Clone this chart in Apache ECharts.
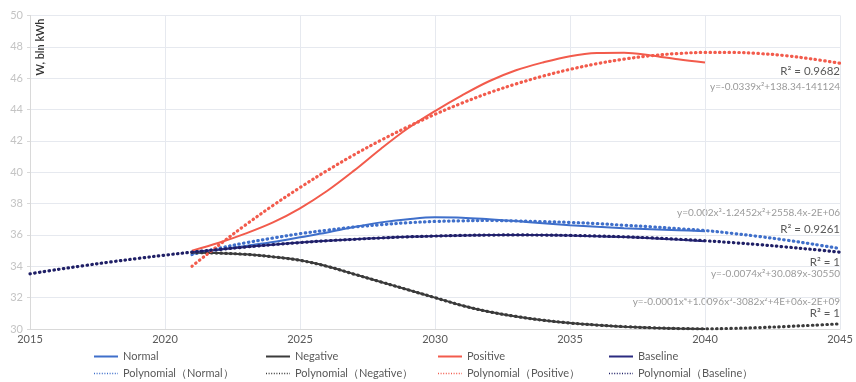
<!DOCTYPE html>
<html>
<head>
<meta charset="utf-8">
<script src="https://cdn.jsdelivr.net/npm/echarts@6/dist/echarts.min.js"></script>
<style>
  html, body { margin: 0; padding: 0; background: #ffffff; }
  #chart { width: 856px; height: 382px; }
</style>
</head>
<body>
<div id="chart"></div>
<script>
// Electricity consumption scenarios, bln kWh
const yearsScenario = [2021, 2022, 2023, 2024, 2025, 2026, 2027, 2028, 2029, 2030,
                       2031, 2032, 2033, 2034, 2035, 2036, 2037, 2038, 2039, 2040];
const yearsTrend = [2021, 2022, 2023, 2024, 2025, 2026, 2027, 2028, 2029, 2030,
                    2031, 2032, 2033, 2034, 2035, 2036, 2037, 2038, 2039, 2040,
                    2041, 2042, 2043, 2044, 2045];
const yearsBaseTrend = [2015, 2016, 2017, 2018, 2019, 2020,
                        2021, 2022, 2023, 2024, 2025, 2026, 2027, 2028, 2029, 2030,
                        2031, 2032, 2033, 2034, 2035, 2036, 2037, 2038, 2039, 2040,
                        2041, 2042, 2043, 2044, 2045];

const normal   = [34.80, 35.05, 35.30, 35.55, 35.85, 36.15, 36.50, 36.80, 37.00, 37.12,
                  37.10, 37.00, 36.88, 36.75, 36.62, 36.52, 36.43, 36.36, 36.30, 36.24];
const negative = [34.88, 34.84, 34.76, 34.60, 34.38, 34.00, 33.50, 33.00, 32.50, 32.00,
                  31.50, 31.10, 30.80, 30.56, 30.38, 30.25, 30.15, 30.08, 30.03, 30.00];
const positive = [35.00, 35.50, 36.10, 36.80, 37.70, 38.80, 40.10, 41.50, 42.80, 43.90,
                  44.90, 45.80, 46.50, 47.00, 47.40, 47.60, 47.62, 47.45, 47.20, 47.00];
const baseline = [34.90, 35.07, 35.23, 35.38, 35.51, 35.63, 35.72, 35.81, 35.88, 35.93,
                  35.97, 35.99, 36.00, 35.99, 35.96, 35.91, 35.86, 35.79, 35.70, 35.60];

const trendNormal   = [34.75, 35.15, 35.50, 35.80, 36.08, 36.30, 36.50, 36.65, 36.78, 36.86,
                       36.90, 36.92, 36.89, 36.85, 36.80, 36.72, 36.62, 36.52, 36.40, 36.28,
                       36.10, 35.90, 35.67, 35.41, 35.13];
const trendNegative = [34.88, 34.84, 34.76, 34.60, 34.38, 34.00, 33.50, 33.00, 32.50, 32.00,
                       31.50, 31.10, 30.80, 30.56, 30.38, 30.25, 30.15, 30.08, 30.03, 30.01,
                       30.04, 30.09, 30.16, 30.24, 30.33];
const trendPositive = [34.00, 35.36, 36.66, 37.88, 39.02, 40.10, 41.11, 42.04, 42.90, 43.69,
                       44.41, 45.06, 45.63, 46.13, 46.56, 46.92, 47.21, 47.43, 47.57, 47.64,
                       47.64, 47.57, 47.43, 47.21, 46.95];
const trendBaseline = [33.52, 33.79, 34.04, 34.28, 34.50, 34.71,
                       34.90, 35.07, 35.23, 35.38, 35.51, 35.63, 35.72, 35.81, 35.88, 35.93,
                       35.97, 35.99, 36.00, 35.99, 35.97, 35.93, 35.88, 35.81, 35.72, 35.63,
                       35.51, 35.38, 35.23, 35.07, 34.90];

const yTicks = { min: 30, max: 50, step: 2 };
const xTicks = { min: 2015, max: 2045, step: 5 };

// Trendline equations and fit quality shown at the right edge
const trendNotes = [
  { text: 'R² = 0.9682', kind: 'r2', y: 71 },
  { text: 'y=-0.0339x²+138.34-141124', kind: 'eq', y: 87 },
  { text: 'y=0.002x³-1.2452x²+2558.4x-2E+06', kind: 'eq', y: 213 },
  { text: 'R² = 0.9261', kind: 'r2', y: 229 },
  { text: 'R² = 1', kind: 'r2', y: 262 },
  { text: 'y=-0.0074x²+30.089x-30550', kind: 'eq', y: 274 },
  { text: 'y=-0.0001x⁴+1.0096x³-3082x²+4E+06x-2E+09', kind: 'eq', y: 302 },
  { text: 'R² = 1', kind: 'r2', y: 313 }
];

const FONT = 'Lato, "Open Sans", sans-serif';
const colors = {
  normal: '#3f6fca',
  negative: '#3b3b3b',
  positive: '#f25b4c',
  baseline: '#2b2b80',
  baselineTrend: '#1f1f66'
};

const zip = (xs, ys) => xs.map((x, i) => [x, ys[i]]);

function solid(name, xs, ys, color) {
  return {
    name, type: 'line', data: zip(xs, ys),
    smooth: 0.35, symbol: 'none',
    lineStyle: { color, width: 2 },
    itemStyle: { color },
    z: 2
  };
}
function dotted(name, xs, ys, color) {
  return {
    name, type: 'line', data: zip(xs, ys),
    smooth: 0.35, symbol: 'none',
    lineStyle: { color, width: 3.2, type: [0.5, 4.3], cap: 'round' },
    itemStyle: { color },
    z: 3
  };
}

const legendCols = [
  ['Normal', 'Polynomial（Normal）', 93],
  ['Negative', 'Polynomial（Negative）', 265],
  ['Positive', 'Polynomial（Positive）', 437],
  ['Baseline', 'Polynomial（Baseline）', 608]
];

const chart = echarts.init(document.getElementById('chart'), null, { renderer: 'canvas' });

chart.setOption({
  backgroundColor: '#ffffff',
  animation: false,
  textStyle: { fontFamily: FONT },
  grid: { left: 30, right: 16, top: 15.4, bottom: 53 },
  xAxis: {
    type: 'value', min: xTicks.min, max: xTicks.max, interval: xTicks.step,
    axisLine: { show: true, lineStyle: { color: '#d9d9d9', width: 1 } },
    axisTick: { show: false },
    axisLabel: { color: '#595959', fontSize: 11, margin: 5, fontFamily: FONT,
                 formatter: v => String(v) },
    splitLine: { show: true, lineStyle: { color: '#e6e9ef', width: 1 } }
  },
  yAxis: {
    type: 'value', min: yTicks.min, max: yTicks.max, interval: yTicks.step,
    axisLine: { show: true, lineStyle: { color: '#d9d9d9', width: 1 } },
    axisTick: { show: true, length: 3, lineStyle: { color: '#d9d9d9' } },
    axisLabel: { color: '#c4c4c4', fontSize: 11, margin: 7, fontFamily: FONT },
    splitLine: { show: true, lineStyle: { color: '#e6e9ef', width: 1 } }
  },
  legend: legendCols.map(([a, b, left]) => ({
    orient: 'vertical', left, top: 350, height: 32, padding: 0,
    itemWidth: 24, itemHeight: 8, itemGap: 4,
    itemStyle: { opacity: 0 },
    textStyle: { color: '#595959', fontSize: 11, fontFamily: FONT, lineHeight: 13 },
    data: [
      { name: a },
      { name: b, lineStyle: { width: 1.3, type: [1, 1.6], cap: 'butt' } }
    ]
  })),
  graphic: [
    {
      type: 'text', x: 40, y: 47, rotation: Math.PI / 2,
      style: {
        text: 'W, bln kWh', fill: '#333333', align: 'center', verticalAlign: 'middle',
        font: '600 11px ' + FONT
      }
    }
  ].concat(trendNotes.map(n => ({
    type: 'text', x: 840, y: n.y,
    style: {
      text: n.text, align: 'right', verticalAlign: 'middle',
      fill: n.kind === 'r2' ? '#595959' : '#9a9a9a',
      font: (n.kind === 'r2' ? '11.5px ' : '10px ') + FONT
    }
  }))),
  series: [
    solid('Normal', yearsScenario, normal, colors.normal),
    solid('Negative', yearsScenario, negative, colors.negative),
    solid('Positive', yearsScenario, positive, colors.positive),
    solid('Baseline', yearsScenario, baseline, colors.baseline),
    dotted('Polynomial（Normal）', yearsTrend, trendNormal, colors.normal),
    dotted('Polynomial（Negative）', yearsTrend, trendNegative, colors.negative),
    dotted('Polynomial（Positive）', yearsTrend, trendPositive, colors.positive),
    dotted('Polynomial（Baseline）', yearsBaseTrend, trendBaseline, colors.baselineTrend)
  ]
});
</script>
</body>
</html>
